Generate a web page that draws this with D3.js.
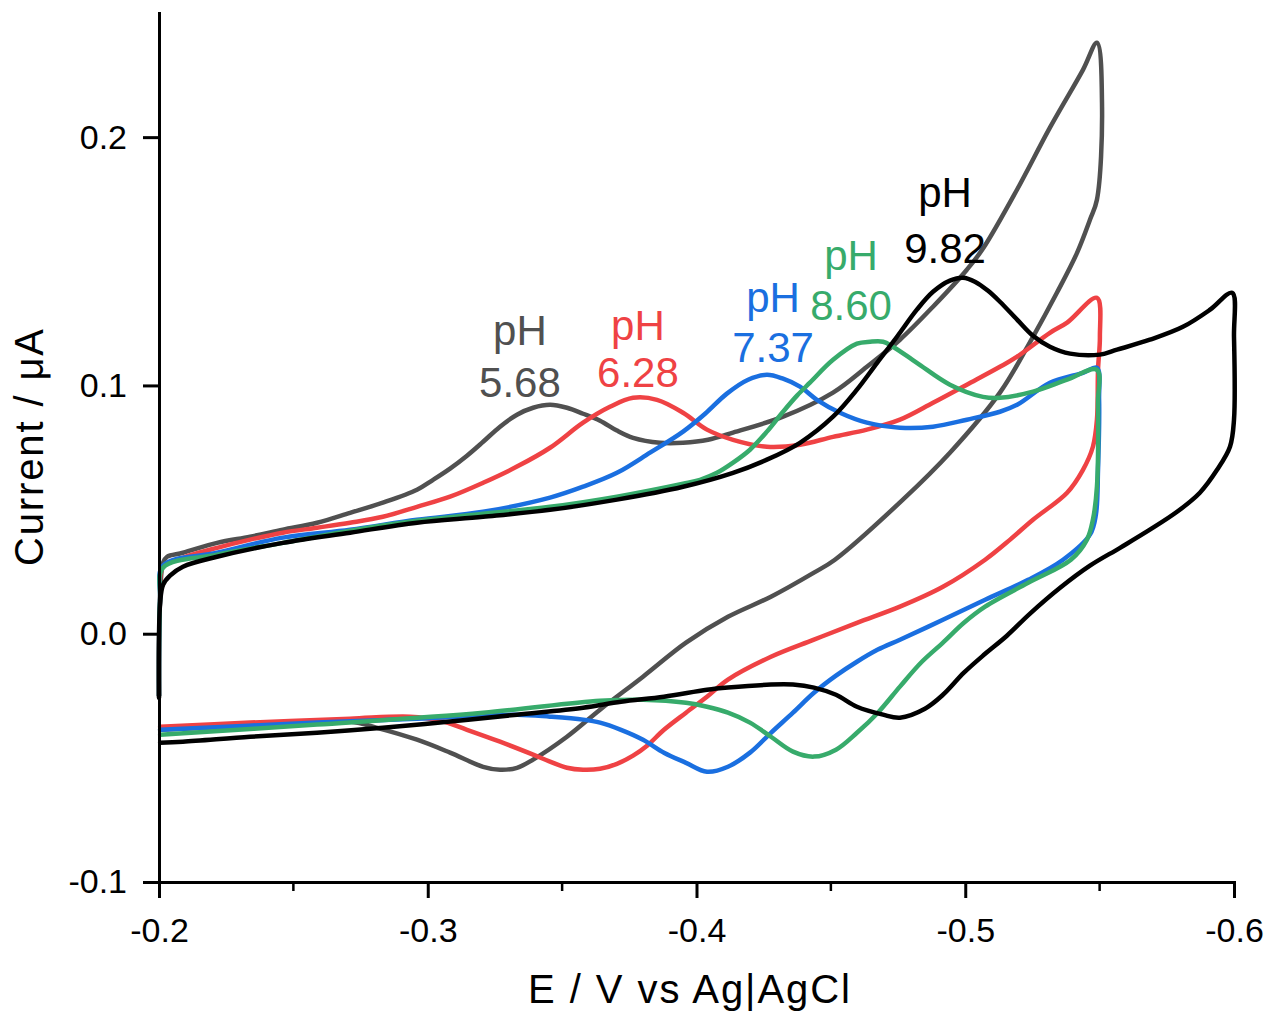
<!DOCTYPE html>
<html>
<head>
<meta charset="utf-8">
<script src="https://cdn.jsdelivr.net/npm/d3@7"></script>
<style>
  body { margin: 0; background: #fff; }
  text { font-family: Arial, "Liberation Sans", sans-serif; }
</style>
</head>
<body>
<svg id="chart" width="1268" height="1018"></svg>
<script>
// cyclic voltammograms, [E (V), I (uA)]
const cv568 = [
  [-0.2000, -0.025], [-0.2004, 0.014], [-0.2015, 0.0286], [-0.2030, 0.031], [-0.2089, 0.0326],
  [-0.2216, 0.0366], [-0.2339, 0.0391], [-0.2461, 0.0419], [-0.2588, 0.0447], [-0.2711, 0.0487],
  [-0.2833, 0.0528], [-0.2960, 0.0580], [-0.3020, 0.0620], [-0.3083, 0.0665], [-0.3146, 0.0717],
  [-0.3206, 0.0773], [-0.3269, 0.0834], [-0.3332, 0.0882], [-0.3392, 0.0910], [-0.3455, 0.0922],
  [-0.3518, 0.0910], [-0.3578, 0.0886], [-0.3641, 0.0858], [-0.3704, 0.0818], [-0.3764, 0.0789],
  [-0.3864, 0.0769], [-0.3950, 0.0769], [-0.4043, 0.0781], [-0.4136, 0.0810], [-0.4322, 0.0874],
  [-0.4508, 0.0971], [-0.4634, 0.1075], [-0.4757, 0.1184], [-0.4880, 0.1317], [-0.5006, 0.1466],
  [-0.5066, 0.1551], [-0.5193, 0.1789], [-0.5315, 0.2038], [-0.5438, 0.2271], [-0.5490, 0.2380],
  [-0.5509, 0.2122], [-0.5490, 0.1748], [-0.5464, 0.1667], [-0.5416, 0.1534], [-0.5341, 0.1373],
  [-0.5252, 0.1196], [-0.5129, 0.0971], [-0.4943, 0.0729], [-0.4768, 0.0540], [-0.4515, 0.0298],
  [-0.4437, 0.0246], [-0.4277, 0.0149], [-0.4117, 0.0068], [-0.3961, -0.0036], [-0.3801, -0.0173],
  [-0.3641, -0.0306], [-0.3518, -0.0415], [-0.3392, -0.0507], [-0.3332, -0.0540], [-0.3269, -0.0548],
  [-0.3206, -0.0536], [-0.3083, -0.0479], [-0.2960, -0.0427], [-0.2811, -0.0379], [-0.2711, -0.0354],
  [-0.2339, -0.0370], [-0.2004, -0.0387]
];
const cv628 = [
  [-0.2000, -0.025], [-0.2004, 0.014], [-0.2015, 0.0270], [-0.2089, 0.0306], [-0.2216, 0.0346],
  [-0.2339, 0.0379], [-0.2461, 0.0407], [-0.2588, 0.0427], [-0.2711, 0.0447], [-0.2833, 0.0471],
  [-0.2960, 0.0511], [-0.3083, 0.0552], [-0.3206, 0.0608], [-0.3332, 0.0673], [-0.3455, 0.0749],
  [-0.3578, 0.0850], [-0.3678, 0.0914], [-0.3764, 0.0950], [-0.3853, 0.0942], [-0.3950, 0.0890],
  [-0.4039, 0.0822], [-0.4136, 0.0781], [-0.4262, 0.0753], [-0.4385, 0.0761], [-0.4508, 0.0793],
  [-0.4634, 0.0822], [-0.4757, 0.0862], [-0.4880, 0.0930], [-0.5006, 0.1003], [-0.5129, 0.1075],
  [-0.5193, 0.1116], [-0.5315, 0.1212], [-0.5379, 0.1253], [-0.5490, 0.1353], [-0.5501, 0.1196],
  [-0.5494, 0.1063], [-0.5490, 0.0862], [-0.5475, 0.0753], [-0.5438, 0.0660], [-0.5379, 0.0568],
  [-0.5252, 0.0459], [-0.5167, 0.0379], [-0.5074, 0.0298], [-0.4917, 0.0189], [-0.4757, 0.0109],
  [-0.4597, 0.0044], [-0.4437, -0.0024], [-0.4277, -0.0093], [-0.4117, -0.0185], [-0.4039, -0.0254],
  [-0.3961, -0.0318], [-0.3879, -0.0387], [-0.3816, -0.0451], [-0.3764, -0.0491], [-0.3704, -0.0524],
  [-0.3641, -0.0544], [-0.3578, -0.0548], [-0.3518, -0.0540], [-0.3455, -0.0515], [-0.3392, -0.0487],
  [-0.3269, -0.0435], [-0.3146, -0.0387], [-0.3046, -0.0350], [-0.2934, -0.0334], [-0.2711, -0.0342],
  [-0.2339, -0.0358], [-0.2004, -0.0375]
];
const cv737 = [
  [-0.2000, -0.025], [-0.2004, 0.014], [-0.2015, 0.0274], [-0.2216, 0.0326], [-0.2461, 0.0387],
  [-0.2711, 0.0419], [-0.2960, 0.0459], [-0.3206, 0.0491], [-0.3455, 0.0548], [-0.3578, 0.0592],
  [-0.3704, 0.0648], [-0.3827, 0.0729], [-0.3950, 0.0814], [-0.4032, 0.0886], [-0.4113, 0.0967],
  [-0.4192, 0.1023], [-0.4262, 0.1043], [-0.4322, 0.1027], [-0.4385, 0.0995], [-0.4448, 0.0942],
  [-0.4534, 0.0890], [-0.4634, 0.0850], [-0.4757, 0.0830], [-0.4880, 0.0834], [-0.5006, 0.0862],
  [-0.5129, 0.0894], [-0.5193, 0.0922], [-0.5315, 0.1011], [-0.5438, 0.1051], [-0.5490, 0.1071],
  [-0.5498, 0.0942], [-0.5494, 0.0660], [-0.5486, 0.0479], [-0.5464, 0.0399], [-0.5364, 0.0298],
  [-0.5234, 0.0217], [-0.5074, 0.0137], [-0.4917, 0.0056], [-0.4757, -0.0024], [-0.4675, -0.0064],
  [-0.4597, -0.0113], [-0.4519, -0.0169], [-0.4437, -0.0238], [-0.4359, -0.0318], [-0.4277, -0.0399],
  [-0.4199, -0.0479], [-0.4117, -0.0536], [-0.4039, -0.0556], [-0.3961, -0.0520], [-0.3879, -0.0479],
  [-0.3801, -0.0427], [-0.3719, -0.0387], [-0.3641, -0.0358], [-0.3578, -0.0346], [-0.3455, -0.0334],
  [-0.3332, -0.0326], [-0.2960, -0.0342], [-0.2588, -0.0358], [-0.2004, -0.0387]
];
const cv860 = [
  [-0.2000, -0.025], [-0.2004, 0.014], [-0.2015, 0.0266], [-0.2216, 0.0318], [-0.2461, 0.0366],
  [-0.2711, 0.0415], [-0.2960, 0.0455], [-0.3206, 0.0483], [-0.3455, 0.0511], [-0.3704, 0.0552],
  [-0.3950, 0.0604], [-0.4013, 0.0620], [-0.4076, 0.0648], [-0.4136, 0.0689], [-0.4199, 0.0741],
  [-0.4262, 0.0814], [-0.4322, 0.0894], [-0.4374, 0.0959], [-0.4422, 0.1011], [-0.4508, 0.1103],
  [-0.4597, 0.1168], [-0.4646, 0.1176], [-0.4694, 0.1176], [-0.4731, 0.1156], [-0.4820, 0.1091],
  [-0.4943, 0.1003], [-0.5066, 0.0954], [-0.5129, 0.0950], [-0.5252, 0.0975], [-0.5379, 0.1023],
  [-0.5490, 0.1063], [-0.5494, 0.0930], [-0.5490, 0.0592], [-0.5475, 0.0459], [-0.5453, 0.0379],
  [-0.5393, 0.0298], [-0.5234, 0.0205], [-0.5074, 0.0109], [-0.4995, 0.0044], [-0.4917, -0.0036],
  [-0.4835, -0.0117], [-0.4757, -0.0213], [-0.4675, -0.0318], [-0.4597, -0.0399], [-0.4519, -0.0467],
  [-0.4437, -0.0495], [-0.4359, -0.0475], [-0.4277, -0.0415], [-0.4199, -0.0358], [-0.4117, -0.0318],
  [-0.4039, -0.0294], [-0.3961, -0.0278], [-0.3801, -0.0266], [-0.3641, -0.0270], [-0.3206, -0.0318],
  [-0.2588, -0.0366], [-0.2004, -0.0407]
];
const cv982 = [
  [-0.2000, -0.0258], [-0.2004, 0.0120], [-0.2015, 0.0197], [-0.2041, 0.0234], [-0.2089, 0.0270],
  [-0.2216, 0.0310], [-0.2461, 0.0366], [-0.2711, 0.0407], [-0.2960, 0.0447], [-0.3206, 0.0471],
  [-0.3455, 0.0499], [-0.3704, 0.0540], [-0.3950, 0.0592], [-0.4136, 0.0648], [-0.4262, 0.0701],
  [-0.4385, 0.0769], [-0.4508, 0.0874], [-0.4597, 0.0983], [-0.4672, 0.1091], [-0.4746, 0.1196],
  [-0.4820, 0.1305], [-0.4880, 0.1377], [-0.4943, 0.1422], [-0.4992, 0.1434], [-0.5036, 0.1418],
  [-0.5085, 0.1381], [-0.5129, 0.1337], [-0.5193, 0.1265], [-0.5252, 0.1200], [-0.5315, 0.1156],
  [-0.5390, 0.1128], [-0.5501, 0.1124], [-0.5565, 0.1144], [-0.5687, 0.1184], [-0.5810, 0.1236],
  [-0.5911, 0.1305], [-0.5993, 0.1373], [-0.6000, 0.1196], [-0.6000, 0.0862], [-0.5985, 0.0753],
  [-0.5937, 0.0660], [-0.5873, 0.0568], [-0.5788, 0.0491], [-0.5687, 0.0419], [-0.5576, 0.0346],
  [-0.5464, 0.0274], [-0.5353, 0.0185], [-0.5241, 0.0081], [-0.5155, -0.0008], [-0.5074, -0.0081],
  [-0.4995, -0.0157], [-0.4917, -0.0246], [-0.4850, -0.0302], [-0.4757, -0.0338], [-0.4694, -0.0326],
  [-0.4597, -0.0294], [-0.4519, -0.0246], [-0.4437, -0.0217], [-0.4359, -0.0205], [-0.4277, -0.0205],
  [-0.4117, -0.0217], [-0.4039, -0.0226], [-0.3879, -0.0254], [-0.3719, -0.0274], [-0.3578, -0.0298],
  [-0.3332, -0.0326], [-0.3083, -0.0354], [-0.2833, -0.0379], [-0.2588, -0.0399], [-0.2339, -0.0415],
  [-0.2089, -0.0435], [-0.2004, -0.0439]
];

const phValues = ["5.68", "6.28", "7.37", "8.60", "9.82"];
const curves = [cv568, cv628, cv737, cv860, cv982];
const colors = ["#505050", "#ef4244", "#1a6fe0", "#37ab6b", "#000000"];
// label anchors: E of label centre, I of "pH" baseline, I of value baseline
const labelE = [-0.3343, -0.3782, -0.4285, -0.4575, -0.4925];
const labelPhI = [0.1164, 0.1184, 0.1297, 0.1466, 0.1720];
const labelValI = [0.0954, 0.0995, 0.1095, 0.1265, 0.1494];

const xMajor = [-0.2, -0.3, -0.4, -0.5, -0.6];
const xMinor = [-0.25, -0.35, -0.45, -0.55];
const yMajor = [-0.1, 0.0, 0.1, 0.2];

const margin = { top: 13, right: 34, bottom: 136, left: 159 };
const width = 1268 - margin.left - margin.right;
const height = 1018 - margin.top - margin.bottom;

const svg = d3.select('#chart');
const g = svg.append('g').attr('transform', `translate(${margin.left},${margin.top})`);

const x = d3.scaleLinear().domain([-0.2, -0.6]).range([0, width]);
const y = d3.scaleLinear().domain([-0.1, 0.25]).range([height, 0]);

const fmt = d => d.toFixed(1);

// curves
const line = d3.line()
  .x(d => x(d[0]))
  .y(d => y(d[1]))
  .curve(d3.curveCatmullRom.alpha(0.5));

g.selectAll('.cv')
  .data(curves)
  .join('path')
  .attr('class', 'cv')
  .attr('d', line)
  .attr('fill', 'none')
  .attr('stroke', (d, i) => colors[i])
  .attr('stroke-width', 4.5)
  .attr('stroke-linejoin', 'round')
  .attr('stroke-linecap', 'round');

// axes
const xAxis = g.append('g')
  .attr('transform', `translate(0,${height})`)
  .call(d3.axisBottom(x).tickValues(xMajor).tickFormat(fmt).tickSize(16).tickSizeOuter(0).tickPadding(20));
xAxis.selectAll('.minor')
  .data(xMinor)
  .join('line')
  .attr('class', 'minor')
  .attr('x1', d => x(d)).attr('x2', d => x(d))
  .attr('y1', 0).attr('y2', 9);

const yAxis = g.append('g')
  .call(d3.axisLeft(y).tickValues(yMajor).tickFormat(fmt).tickSize(16).tickSizeOuter(0).tickPadding(16));

[xAxis, yAxis].forEach(ax => {
  ax.select('.domain').attr('stroke', '#000').attr('stroke-width', 3).attr('stroke-linecap', 'square');
  ax.selectAll('line').attr('stroke', '#000').attr('stroke-width', 3);
  ax.selectAll('text').attr('font-size', 34).attr('fill', '#000')
    .style('font-family', 'Arial, "Liberation Sans", sans-serif');
});
xAxis.selectAll('.minor').attr('stroke-width', 2.5);

// axis titles
svg.append('text')
  .attr('x', 689)
  .attr('y', 1003)
  .attr('text-anchor', 'middle')
  .attr('font-size', 40)
  .attr('textLength', 322)
  .attr('lengthAdjust', 'spacing')
  .text('E / V vs Ag|AgCl');

svg.append('text')
  .attr('transform', `translate(43,${margin.top + height / 2}) rotate(-90)`)
  .attr('text-anchor', 'middle')
  .attr('font-size', 40)
  .attr('textLength', 237)
  .attr('lengthAdjust', 'spacing')
  .text('Current / \u03bcA');

// pH labels
const labels = g.selectAll('.phlabel')
  .data(phValues)
  .join('g')
  .attr('class', 'phlabel')
  .attr('fill', (d, i) => colors[i])
  .attr('font-size', 42)
  .attr('text-anchor', 'middle');
labels.append('text')
  .attr('x', (d, i) => x(labelE[i]))
  .attr('y', (d, i) => y(labelPhI[i]))
  .text('pH');
labels.append('text')
  .attr('x', (d, i) => x(labelE[i]))
  .attr('y', (d, i) => y(labelValI[i]))
  .text(d => d);
</script>
</body>
</html>
